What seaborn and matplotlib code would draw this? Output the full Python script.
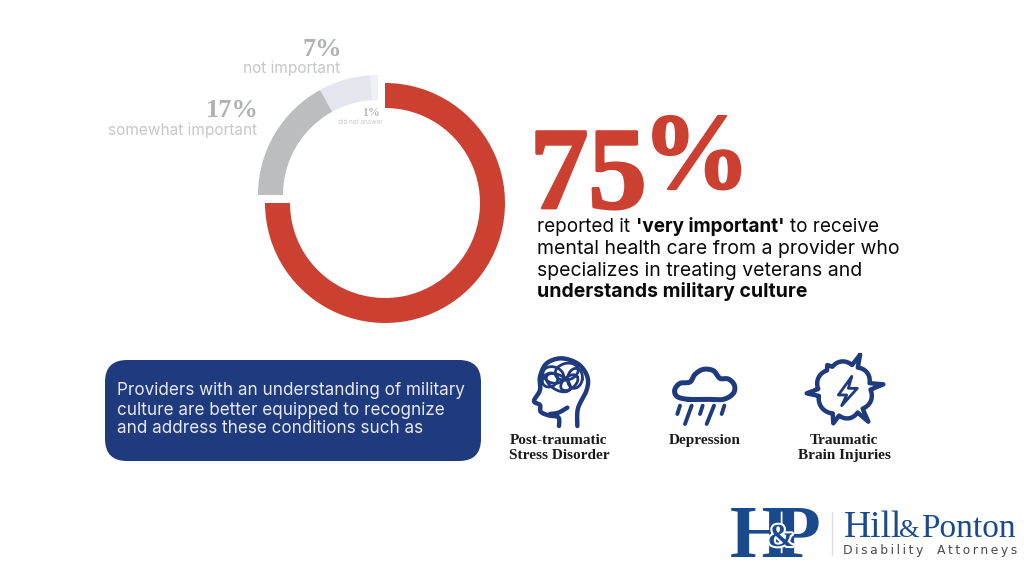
import numpy as np
import matplotlib
matplotlib.use("Agg")
import matplotlib.pyplot as plt
import matplotlib.patheffects as pe
from matplotlib.patches import FancyBboxPatch
import seaborn as sns

# ---- data ----
main_values = [75, 25]
other_values = [17, 7, 1, 75]
other_labels = ["somewhat important", "not important", "did not answer"]
other_pct = ["17%", "7%", "1%"]
lead_pct = ["75", "%"]
conditions = [["Post-traumatic", "Stress Disorder"], ["Depression"], ["Traumatic", "Brain Injuries"]]
box_lines = ["Providers with an understanding of military",
             "culture are better equipped to recognize",
             "and address these conditions such as"]

RED, GRAY, LIGHT, LIGHTER = "#CB4030", "#BBBDBF", "#E3E6EC", "#EFF0F3"
NAVY, LOGO = "#1F3A7D", "#1A4A8C"
SANS = "Inter"
SERIF = "Liberation Serif"

sns.set_theme(style="white")
fig = plt.figure(figsize=(10.24, 5.66), dpi=100, facecolor="white")
ax = fig.add_axes([0, 0, 1, 1])
Y = lambda p: 566 - p

# ---- donut ----
ax.pie(main_values, colors=[RED, "none"], startangle=90, counterclock=False,
       center=(385, Y(203)), radius=120, wedgeprops=dict(width=25, linewidth=0))
ax.pie(other_values, colors=[GRAY, LIGHT, LIGHTER, "none"], startangle=180, counterclock=False,
       center=(378, Y(195)), radius=120, wedgeprops=dict(width=25, linewidth=0))
ax.set_xlim(0, 1024); ax.set_ylim(0, 566); ax.set_aspect("auto"); ax.axis("off")

def T(x, y, s, size, color="black", ha="left", weight="normal", family=SANS, heavy=0, **k):
    t = ax.text(x, Y(y), s, fontsize=size, color=color, ha=ha, va="baseline", fontweight=weight, family=family, **k)
    if heavy:
        t.set_path_effects([pe.withStroke(linewidth=heavy, foreground=color)])
    return t

# labels round the donut
T(259, 117, other_pct[0], 19, "#B0B1B3", "right", "bold", SERIF)
T(257, 135, other_labels[0], 11.1, "#C6C7C9", "right")
T(342, 56, other_pct[1], 19, "#B0B1B3", "right", "bold", SERIF)
T(340, 73, other_labels[1], 11.1, "#C6C7C9", "right")
T(380, 116, other_pct[2], 8.5, "#B8B8BA", "right", "bold", SERIF)
T(383, 124, other_labels[2], 4.6, "#C6C7C9", "right")

# big number
T(530, 208, lead_pct[0], 84, RED, "left", "bold", SERIF, heavy=2)
T(642, 188, lead_pct[1], 78, RED, "left", "bold", SERIF, heavy=1.5)

# statement with mixed weight
def runs(x, y, parts, size=14):
    r = fig.canvas.get_renderer()
    for s, w in parts:
        t = T(x, y, s, size, "#0A0A0A", weight=w)
        x = t.get_window_extent(r).x1 + 5.5
runs(537, 232, [("reported it", "normal"), ("'very important'", "bold"), ("to receive", "normal")], 13.6)
runs(537, 254, [("mental health care from a provider who", "normal")])
runs(537, 276, [("specializes in treating veterans and", "normal")])
runs(537, 297, [("understands military culture", "bold")])

# navy box
ax.add_patch(FancyBboxPatch((105 + 22, Y(461) + 22), 376 - 44, 101 - 44,
                            boxstyle="round,pad=22,rounding_size=22", fc=NAVY, ec=NAVY, lw=0))
for yy, s in zip([395, 415, 433], box_lines):
    T(117, yy, s, 12.3, "#E6EAF4")

# condition captions
for cx, lines in zip([559, 705, 844], conditions):
    for i, s in enumerate(lines):
        T(cx, 444 + 15 * i, s, 11, "#1A1A1A", "center", "bold", SERIF)

# icons (decoration, zoom coordinates)
def Z(pts):
    a = np.array(pts, float)
    return np.c_[490 + a[:, 0] / 3, Y(340 + a[:, 1] / 3)]

def smooth(pts, closed=False, n=10):
    p = np.array(pts, float)
    if closed:
        p = np.vstack([p[-1], p, p[0], p[1]])
    else:
        p = np.vstack([p[0], p, p[-1]])
    out = []
    for i in range(1, len(p) - 2):
        for t in np.linspace(0, 1, n, endpoint=False):
            a, b, c, d = p[i - 1], p[i], p[i + 1], p[i + 2]
            out.append(0.5 * (2*b + (c-a)*t + (2*a-5*b+4*c-d)*t**2 + (3*b-a-3*c+d)*t**3))
    out.append(p[-2])
    return np.array(out)

def stroke(xy, lw=3.2):
    ax.plot(xy[:, 0], xy[:, 1], color=NAVY, lw=lw, solid_capstyle="round", solid_joinstyle="round")

# head
stroke(smooth(Z([(262, 258), (264, 205), (290, 150), (292, 110), (265, 72), (215, 55), (170, 70),
                 (150, 110), (150, 150), (132, 183), (150, 195), (152, 215), (175, 226), (205, 232), (207, 258)])))
stroke(smooth(Z([(180, 222), (205, 218), (232, 203)])))
for (cx, cy, w, h, ang) in [(190, 105, 32, 24, 20), (230, 95, 35, 25, -15), (255, 115, 22, 30, 10),
                            (205, 128, 40, 22, 30), (180, 120, 24, 20, -30), (238, 128, 30, 18, -40)]:
    th = np.linspace(0, 2 * np.pi, 40); a = np.radians(ang)
    ex, ey = w * np.cos(th), h * np.sin(th)
    stroke(Z(np.c_[cx + ex * np.cos(a) - ey * np.sin(a), cy + ex * np.sin(a) + ey * np.cos(a)]), 2)

# cloud
stroke(smooth(Z([(595, 178), (650, 178), (700, 178), (730, 160), (733, 135), (715, 117), (690, 115), (670, 92),
                 (640, 88), (615, 103), (600, 126), (570, 130), (554, 150), (562, 170)]), closed=True), 3.6)
for seg in [[(570, 197), (562, 222)], [(605, 197), (585, 252)], [(638, 197), (630, 222)],
            [(672, 197), (650, 252)], [(703, 197), (695, 222)]]:
    stroke(Z(seg), 2.8)

# burst
c = np.array([1063, 150.])
tips = [(1110, 45), (1180, 133), (1135, 245), (1030, 250), (950, 160), (1012, 75)]
ang = np.unwrap([np.arctan2(t[1] - c[1], t[0] - c[0]) for t in tips])
outline = []
for i, t in enumerate(tips):
    a0 = ang[i]; a1 = ang[(i + 1) % 6] + (2 * np.pi if i == 5 else 0)
    outline.append(np.array(t, float))
    for s in np.linspace(0.12, 0.88, 12):
        rr = 74 + 12 * np.sin(np.pi * s)
        th = a0 + (a1 - a0) * s
        outline.append(c + rr * np.array([np.cos(th), np.sin(th)]))
outline.append(np.array(tips[0], float))
stroke(Z(np.array(outline)))
stroke(Z([(1085, 110), (1045, 165), (1070, 165), (1055, 197), (1102, 145), (1075, 145), (1085, 110)]), 2)

# logo
T(730, 557, "H", 54, LOGO, "left", "bold", SERIF)
T(775, 557, "P", 54, LOGO, "left", "bold", SERIF)
amp = T(781, 546, "&", 23, LOGO, "center", "bold", SERIF)
amp.set_path_effects([pe.withStroke(linewidth=3, foreground="white")])
ax.plot([832, 832], [Y(512), Y(555)], color="#DDDDDD", lw=1)
T(844, 537, "Hill", 27, LOGO, "left", "normal", SERIF)
T(899, 537, "&", 19, LOGO, "left", "normal", SERIF)
T(921, 537, "Ponton", 24, LOGO, "left", "normal", SERIF)
narrow = ["Liberation Sans Narrow", "DejaVu Sans"]
T(843, 554, "\u2009".join("Disability"), 8.9, "#4A4A4A", "left", "normal", narrow)
T(937, 554, "\u2009".join("Attorneys"), 8.9, "#4A4A4A", "left", "normal", narrow)

fig.savefig("out.png", dpi=100, facecolor="white")
